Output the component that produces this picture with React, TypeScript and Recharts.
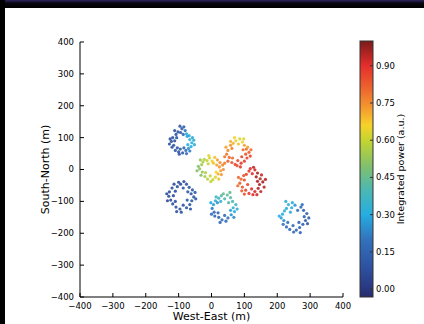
import { Label, Scatter, ScatterChart, XAxis, YAxis } from 'recharts';

// [west-east (m), south-north (m), integrated power (a.u.)]
const clusterA = [
  [-118, 100, 0.1], [-122, 88, 0.09], [-115, 76, 0.11], [-120, 70, 0.1], [-110, 60, 0.12],
  [-100, 55, 0.1], [-95, 64, 0.12], [-88, 52, 0.13], [-78, 60, 0.2], [-70, 66, 0.25],
  [-62, 72, 0.3], [-60, 84, 0.33], [-66, 94, 0.34], [-58, 100, 0.3], [-68, 106, 0.32],
  [-76, 112, 0.3], [-80, 122, 0.2], [-90, 128, 0.12], [-94, 116, 0.12], [-102, 118, 0.1],
  [-108, 110, 0.1], [-112, 122, 0.09], [-126, 96, 0.08], [-104, 68, 0.1], [-84, 68, 0.15],
  [-72, 78, 0.3], [-74, 104, 0.28], [-86, 110, 0.15], [-106, 100, 0.1], [-98, 48, 0.12],
  [-76, 50, 0.18], [-54, 92, 0.34], [-128, 80, 0.09], [-96, 136, 0.11], [-84, 134, 0.14],
  [-112, 90, 0.1], [-66, 58, 0.22], [-52, 78, 0.32],
];
const clusterB = [
  [-30, 15, 0.55], [-36, 2, 0.52], [-28, -8, 0.54], [-32, -18, 0.5], [-20, -22, 0.56],
  [-12, -30, 0.58], [-4, -20, 0.6], [4, -32, 0.6], [12, -24, 0.63], [20, -14, 0.7],
  [28, -4, 0.72], [24, 8, 0.74], [34, 14, 0.76], [26, 22, 0.75], [18, 30, 0.72],
  [10, 38, 0.68], [2, 26, 0.65], [-6, 36, 0.62], [-14, 28, 0.6], [-22, 32, 0.58],
  [-26, 24, 0.56], [-40, 10, 0.5], [-18, -10, 0.57], [14, -8, 0.66], [16, 14, 0.72],
  [-2, -38, 0.6], [30, -16, 0.73], [-10, 18, 0.6], [6, 20, 0.68], [36, 0, 0.75],
  [-44, -4, 0.5], [-8, 44, 0.64], [22, -30, 0.68], [-34, 30, 0.54], [40, 20, 0.77],
];
const clusterC = [
  [50, 60, 0.76], [46, 48, 0.78], [54, 38, 0.8], [50, 26, 0.82], [62, 22, 0.84],
  [72, 16, 0.86], [80, 28, 0.85], [90, 20, 0.88], [100, 26, 0.87], [108, 36, 0.86],
  [104, 48, 0.84], [114, 54, 0.82], [106, 64, 0.8], [100, 76, 0.72], [94, 86, 0.66],
  [82, 80, 0.68], [74, 90, 0.64], [66, 82, 0.7], [58, 76, 0.74], [62, 66, 0.76],
  [96, 62, 0.8], [64, 36, 0.8], [92, 40, 0.86], [86, 96, 0.62], [70, 100, 0.66],
  [110, 70, 0.72], [44, 70, 0.72], [78, 12, 0.84], [118, 42, 0.86], [40, 40, 0.78],
  [58, 88, 0.7], [88, 8, 0.88], [120, 62, 0.8], [98, 96, 0.63],
];
const clusterD = [
  [90, -30, 0.8], [86, -43, 0.82], [94, -55, 0.84], [92, -67, 0.82], [104, -65, 0.86],
  [114, -75, 0.88], [122, -61, 0.9], [132, -69, 0.92], [142, -59, 0.94], [146, -47, 0.95],
  [156, -39, 0.96], [148, -29, 0.94], [152, -17, 0.93], [140, -11, 0.95], [132, -1, 0.92],
  [124, -13, 0.9], [114, -5, 0.88], [106, -15, 0.86], [98, -19, 0.84], [100, -33, 0.84],
  [136, -23, 0.96], [140, -37, 0.95], [110, -47, 0.86], [126, -79, 0.9], [80, -51, 0.8],
  [160, -55, 0.94], [118, 3, 0.9], [100, -77, 0.84], [82, -25, 0.8], [164, -31, 0.94],
  [138, -79, 0.92], [150, -69, 0.93], [128, 7, 0.94],
];
const clusterE = [
  [-128, -70, 0.08], [-130, -84, 0.07], [-124, -96, 0.08], [-118, -108, 0.09], [-108, -118, 0.1],
  [-96, -124, 0.09], [-86, -112, 0.1], [-76, -120, 0.11], [-66, -110, 0.1], [-60, -98, 0.12],
  [-54, -86, 0.11], [-62, -76, 0.1], [-58, -64, 0.12], [-68, -56, 0.1], [-76, -46, 0.09],
  [-86, -58, 0.1], [-94, -46, 0.08], [-104, -54, 0.09], [-114, -46, 0.08], [-120, -58, 0.07],
  [-110, -68, 0.09], [-110, -100, 0.1], [-74, -96, 0.12], [-72, -70, 0.11], [-100, -40, 0.08],
  [-136, -76, 0.07], [-92, -134, 0.1], [-48, -92, 0.12], [-116, -82, 0.08], [-84, -38, 0.09],
  [-134, -98, 0.07], [-64, -124, 0.11], [-106, -132, 0.09], [-50, -72, 0.12],
];
const clusterF = [
  [6, -110, 0.28], [2, -122, 0.22], [8, -134, 0.18], [10, -146, 0.16], [22, -150, 0.15],
  [32, -158, 0.17], [40, -144, 0.18], [50, -152, 0.2], [60, -142, 0.25], [70, -132, 0.3],
  [66, -120, 0.34], [74, -110, 0.36], [64, -100, 0.4], [58, -88, 0.42], [48, -80, 0.44],
  [40, -92, 0.4], [30, -82, 0.42], [22, -90, 0.38], [14, -86, 0.36], [12, -98, 0.32],
  [18, -104, 0.26], [52, -104, 0.42], [20, -136, 0.16], [58, -128, 0.28], [36, -76, 0.44],
  [-2, -104, 0.3], [44, -162, 0.18], [78, -124, 0.32], [28, -100, 0.34], [0, -140, 0.17],
  [26, -166, 0.16], [68, -150, 0.24], [56, -72, 0.44],
];
const clusterG = [
  [216, -140, 0.3], [212, -152, 0.28], [220, -160, 0.24], [218, -172, 0.2], [228, -180, 0.18],
  [238, -188, 0.17], [248, -176, 0.18], [258, -190, 0.16], [268, -182, 0.15], [278, -172, 0.14],
  [286, -160, 0.13], [282, -148, 0.14], [290, -138, 0.14], [280, -128, 0.15], [272, -118, 0.17],
  [262, -128, 0.2], [254, -112, 0.26], [244, -120, 0.3], [234, -110, 0.33], [228, -122, 0.32],
  [222, -130, 0.34], [240, -134, 0.32], [266, -166, 0.15], [232, -166, 0.2], [296, -152, 0.13],
  [250, -196, 0.16], [206, -146, 0.3], [246, -104, 0.3], [276, -110, 0.2], [292, -170, 0.13],
  [270, -198, 0.15], [226, -100, 0.32],
];

const clusters = [clusterA, clusterB, clusterC, clusterD, clusterE, clusterF, clusterG];
const axisTicks = [-400, -300, -200, -100, 0, 100, 200, 300, 400];
const colorTicks = [0.0, 0.15, 0.3, 0.45, 0.6, 0.75, 0.9];
const colorMin = -0.032;
const colorMax = 1.0;

// colour map as it looks in the figure: [value, colour]
const cmap: [number, string][] = [
  [-0.032, '#262d6a'],
  [0.0, '#29377f'],
  [0.1, '#2e55a4'],
  [0.2, '#3272bc'],
  [0.3, '#25ade2'],
  [0.4, '#4cb8b2'],
  [0.5, '#84c06a'],
  [0.6, '#c5d530'],
  [0.66, '#f6d22a'],
  [0.73, '#f49a30'],
  [0.8, '#ee6a2e'],
  [0.9, '#e52e2c'],
  [1.0, '#7a1a1a'],
];

const FONT = '"DejaVu Sans", sans-serif';

function hex(c: string) {
  return [1, 3, 5].map((i) => parseInt(c.slice(i, i + 2), 16));
}

function colorOf(v: number) {
  if (v <= cmap[0][0]) return cmap[0][1];
  for (let i = 1; i < cmap.length; i++) {
    const [v1, c1] = cmap[i];
    if (v <= v1) {
      const [v0, c0] = cmap[i - 1];
      const f = (v - v0) / (v1 - v0);
      const a = hex(c0);
      const b = hex(c1);
      return `rgb(${a.map((x, k) => Math.round(x + (b[k] - x) * f)).join(',')})`;
    }
  }
  return cmap[cmap.length - 1][1];
}

const fmt = (v: number) => String(v).replace('-', '\u2212');

const Dot = (props: any) => (
  <circle cx={props.cx} cy={props.cy} r={1.6} fill={colorOf(props.payload.v)} fillOpacity={0.9} />
);

// inward ticks, matplotlib style
const BottomTick = (props: any) => (
  <g>
    <line x1={props.x} x2={props.x} y1={props.y - 6} y2={props.y - 10} stroke="#000" />
    <text x={props.x} y={props.y} dy="0.75em" textAnchor="middle" fontSize={8.5} fontFamily={FONT} fill="#000">
      {fmt(props.payload.value)}
    </text>
  </g>
);
const LeftTick = (props: any) => (
  <g>
    <line x1={props.x + 6} x2={props.x + 10} y1={props.y} y2={props.y} stroke="#000" />
    <text x={props.x} y={props.y} dy="0.35em" textAnchor="end" fontSize={8.5} fontFamily={FONT} fill="#000">
      {fmt(props.payload.value)}
    </text>
  </g>
);
const TopTick = (props: any) => <line x1={props.x} x2={props.x} y1={props.y} y2={props.y + 4} stroke="#000" />;
const RightTick = (props: any) => <line x1={props.x} x2={props.x - 4} y1={props.y} y2={props.y} stroke="#000" />;

// colour bar geometry
const cbX = 360;
const cbW = 13;
const cbTop = 41;
const cbH = 256;
const cbY = (v: number) => cbTop + cbH - ((v - colorMin) / (colorMax - colorMin)) * cbH;

export default function App() {
  const labelStyle = { fontSize: 11, fontFamily: FONT, fill: '#000' };

  return (
    <div style={{ position: 'absolute', left: 0, top: 0, width: 424, height: 324, background: '#fff', overflow: 'hidden' }}>
      <ScatterChart width={424} height={324} margin={{ top: 42, right: 81, bottom: 0, left: 10 }}>
        <XAxis
          type="number"
          dataKey="x"
          domain={[-400, 400]}
          ticks={axisTicks}
          interval={0}
          height={27}
          tickSize={0}
          tickMargin={6}
          tickLine={false}
          tick={BottomTick}
          stroke="#000"
          allowDataOverflow
        >
          <Label value="West-East (m)" position="insideBottom" offset={4} style={labelStyle} />
        </XAxis>
        <XAxis
          xAxisId="top"
          orientation="top"
          type="number"
          dataKey="x"
          domain={[-400, 400]}
          ticks={axisTicks}
          interval={0}
          height={0}
          tickSize={0}
          tickMargin={0}
          tickLine={false}
          tick={TopTick}
          stroke="#000"
        />
        <YAxis
          type="number"
          dataKey="y"
          domain={[-400, 400]}
          ticks={axisTicks}
          interval={0}
          width={70}
          tickSize={0}
          tickMargin={6}
          tickLine={false}
          tick={LeftTick}
          stroke="#000"
          allowDataOverflow
        >
          <Label value="South-North (m)" position="center" angle={-90} style={{ ...labelStyle, textAnchor: 'middle' }} />
        </YAxis>
        <YAxis
          yAxisId="right"
          orientation="right"
          type="number"
          dataKey="y"
          domain={[-400, 400]}
          ticks={axisTicks}
          interval={0}
          width={0}
          tickSize={0}
          tickMargin={0}
          tickLine={false}
          tick={RightTick}
          stroke="#000"
        />
        {clusters.map((c, i) => (
          <Scatter
            key={i}
            data={c.map(([x, y, v]) => ({ x, y, v }))}
            shape={Dot}
            isAnimationActive={false}
          />
        ))}
      </ScatterChart>

      {/* colour bar */}
      <svg width={424} height={324} style={{ position: 'absolute', left: 0, top: 0, pointerEvents: 'none' }}>
        <defs>
          <linearGradient id="cbar" x1="0" y1="1" x2="0" y2="0">
            {cmap.map(([v, c]) => (
              <stop key={v} offset={(v - colorMin) / (colorMax - colorMin)} stopColor={c} />
            ))}
          </linearGradient>
        </defs>
        <rect x={cbX} y={cbTop} width={cbW} height={cbH} fill="url(#cbar)" stroke="#333" strokeWidth={1} />
        {colorTicks.map((v) => (
          <g key={v}>
            <line x1={cbX + cbW - 3} x2={cbX + cbW} y1={cbY(v)} y2={cbY(v)} stroke="#333" />
            <text x={cbX + cbW + 3} y={cbY(v)} dy="0.35em" fontSize={8.5} fontFamily={FONT} fill="#000">
              {v.toFixed(2)}
            </text>
          </g>
        ))}
        <text
          x={401}
          y={cbTop + cbH / 2}
          transform={`rotate(-90 401 ${cbTop + cbH / 2})`}
          textAnchor="middle"
          dy="0.35em"
          fontSize={9.5}
          fontFamily={FONT}
          fill="#000"
        >
          Integrated power (a.u.)
        </text>
      </svg>

      {/* dark frame from the original figure */}
      <div style={{ position: 'absolute', left: 0, top: 0, width: 424, height: 8, background: 'linear-gradient(#2e2660, #07060f 40%, #000)' }} />
      <div style={{ position: 'absolute', left: 0, top: 0, width: 5, height: 324, background: '#000' }} />
    </div>
  );
}
